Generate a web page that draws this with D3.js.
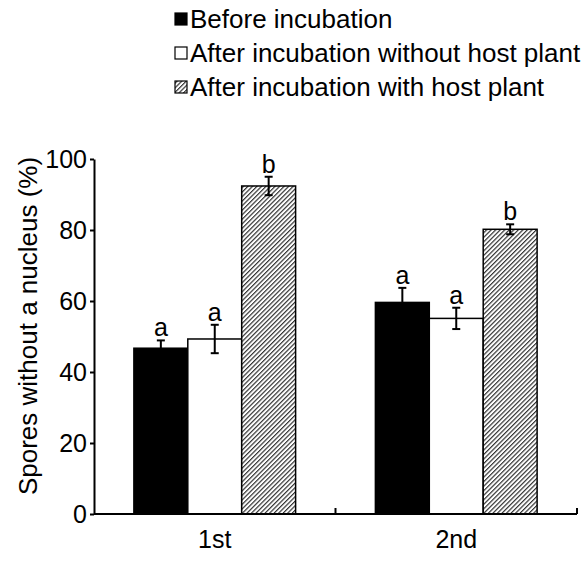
<!DOCTYPE html>
<html>
<head>
<meta charset="utf-8">
<script src="https://cdn.jsdelivr.net/npm/d3@7"></script>
<style>
  body { margin: 0; background: #fff; }
  svg text { font-family: "Liberation Sans", Arial, sans-serif; fill: #000; }
</style>
</head>
<body>
<div id="chart"></div>
<script>
// data
var rounds = ["1st", "2nd"];
var treatments = ["Before incubation", "After incubation without host plant", "After incubation with host plant"];
var means = [
  [46.7, 49.3, 92.4],
  [59.6, 55.1, 80.2]
];
var errs = [
  [2.2, 4.0, 2.6],
  [4.1, 3.0, 1.4]
];
var letters = [
  ["a", "a", "b"],
  ["a", "a", "b"]
];
var yTicks = [0, 20, 40, 60, 80, 100];

var width = 588, height = 563;
var margin = {top: 159, right: 11, bottom: 49, left: 94};

var svg = d3.select("#chart").append("svg")
  .attr("width", width)
  .attr("height", height);

// hatch for the third treatment
var defs = svg.append("defs");
defs.append("pattern")
  .attr("id", "hatch")
  .attr("patternUnits", "userSpaceOnUse")
  .attr("width", 3.2)
  .attr("height", 3.2)
  .attr("patternTransform", "rotate(45)")
  .call(function(p) {
    p.append("rect").attr("width", 3.2).attr("height", 3.2).attr("fill", "#fff");
    p.append("line")
      .attr("x1", 0.6).attr("y1", 0).attr("x2", 0.6).attr("y2", 3.2)
      .attr("stroke", "#333").attr("stroke-width", 1.2);
  });

var fills = ["#000", "#fff", "url(#hatch)"];

var x0 = d3.scaleBand()
  .domain(rounds)
  .range([margin.left, width - margin.right])
  .padding(0);

var x1 = d3.scaleBand()
  .domain(d3.range(treatments.length))
  .range([0, x0.bandwidth()])
  .paddingInner(0)
  .paddingOuter(0.74);

var y = d3.scaleLinear()
  .domain([0, 100])
  .range([height - margin.bottom, margin.top]);

// bars
var groups = svg.selectAll("g.round")
  .data(rounds)
  .enter().append("g")
  .attr("class", "round")
  .attr("transform", function(d) { return "translate(" + x0(d) + ",0)"; });

groups.each(function(r, gi) {
  var g = d3.select(this);
  var rows = means[gi].map(function(m, i) {
    return {i: i, m: m, e: errs[gi][i], l: letters[gi][i]};
  });

  g.selectAll("rect")
    .data(rows)
    .enter().append("rect")
    .attr("x", function(d) { return x1(d.i); })
    .attr("y", function(d) { return y(d.m); })
    .attr("width", x1.bandwidth())
    .attr("height", function(d) { return y(0) - y(d.m); })
    .attr("fill", function(d) { return fills[d.i]; })
    .attr("stroke", "#000")
    .attr("stroke-width", 1.5);

  // error bars
  var cap = 4;
  var mid = function(d) { return x1(d.i) + x1.bandwidth() / 2; };
  var eb = g.selectAll("g.err")
    .data(rows)
    .enter().append("g")
    .attr("class", "err")
    .attr("stroke", "#000")
    .attr("stroke-width", 2);
  eb.append("line")
    .attr("x1", mid).attr("x2", mid)
    .attr("y1", function(d) { return y(d.m + d.e); })
    .attr("y2", function(d) { return y(d.m - d.e); });
  eb.append("line")
    .attr("x1", function(d) { return mid(d) - cap; })
    .attr("x2", function(d) { return mid(d) + cap; })
    .attr("y1", function(d) { return y(d.m + d.e); })
    .attr("y2", function(d) { return y(d.m + d.e); });
  eb.append("line")
    .attr("x1", function(d) { return mid(d) - cap; })
    .attr("x2", function(d) { return mid(d) + cap; })
    .attr("y1", function(d) { return y(d.m - d.e); })
    .attr("y2", function(d) { return y(d.m - d.e); });

  // significance letters
  g.selectAll("text.sig")
    .data(rows)
    .enter().append("text")
    .attr("class", "sig")
    .attr("x", mid)
    .attr("y", function(d) { return y(d.m + d.e) - 4; })
    .attr("text-anchor", "middle")
    .style("font-size", "25px")
    .text(function(d) { return d.l; });
});

// y axis
var yAxis = svg.append("g")
  .attr("transform", "translate(" + margin.left + ",0)")
  .call(d3.axisLeft(y).tickValues(yTicks).tickSize(4).tickPadding(3).tickSizeOuter(0));
yAxis.select(".domain").attr("stroke-width", 2);
yAxis.selectAll(".tick line").attr("stroke-width", 2);
yAxis.selectAll(".tick text").style("font-size", "25px").attr("font-family", null);

// x axis: ticks pointing up at the band edges
var xAxis = svg.append("g")
  .attr("transform", "translate(0," + y(0) + ")");
xAxis.append("line")
  .attr("x1", margin.left).attr("x2", width - margin.right)
  .attr("stroke", "#000").attr("stroke-width", 2);
xAxis.selectAll("line.edge")
  .data(rounds)
  .enter().append("line")
  .attr("class", "edge")
  .attr("x1", function(d) { return x0(d) + x0.bandwidth(); })
  .attr("x2", function(d) { return x0(d) + x0.bandwidth(); })
  .attr("y1", 0).attr("y2", -6)
  .attr("stroke", "#000").attr("stroke-width", 2);
xAxis.selectAll("text")
  .data(rounds)
  .enter().append("text")
  .attr("x", function(d) { return x0(d) + x0.bandwidth() / 2; })
  .attr("y", 34)
  .attr("text-anchor", "middle")
  .style("font-size", "25px")
  .text(function(d) { return d; });

// y title
svg.append("text")
  .attr("transform", "translate(37,326) rotate(-90)")
  .attr("text-anchor", "middle")
  .style("font-size", "26px")
  .text("Spores without a nucleus (%)");

// legend
var legend = svg.append("g")
  .attr("transform", "translate(175,0)");
var items = legend.selectAll("g")
  .data(treatments)
  .enter().append("g")
  .attr("transform", function(d, i) { return "translate(0," + (19 + i * 34) + ")"; });
items.append("rect")
  .attr("x", 0).attr("y", -6)
  .attr("width", 12).attr("height", 12)
  .attr("fill", function(d, i) { return fills[i]; })
  .attr("stroke", "#000")
  .attr("stroke-width", 1.2);
items.append("text")
  .attr("x", 15)
  .attr("y", 9)
  .style("font-size", "26px")
  .text(function(d) { return d; });
</script>
</body>
</html>
